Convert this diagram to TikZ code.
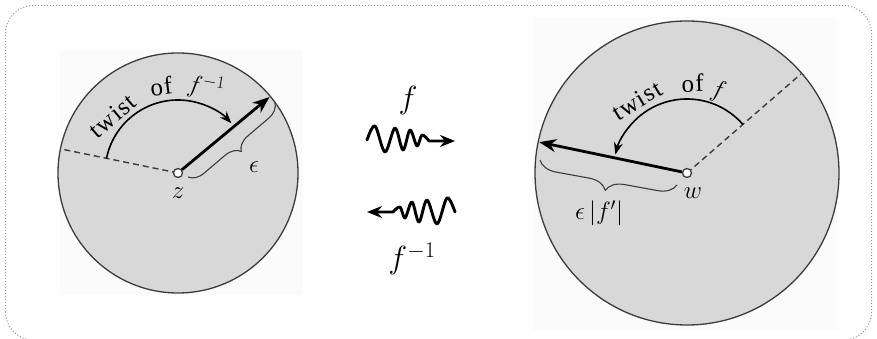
\documentclass[tikz,border=0pt]{standalone}
\usepackage{fix-cm}
\usepackage{fontspec}
\setmainfont{Liberation Serif}
\newfontfamily\arcfont[LetterSpace=5]{Liberation Serif}
\usetikzlibrary{arrows.meta,decorations.pathreplacing,calc}
\definecolor{discfill}{RGB}{216,216,216}
\definecolor{rim}{RGB}{60,60,60}
\definecolor{framecol}{RGB}{150,150,150}
\definecolor{sheet}{RGB}{251,251,251}
\begin{document}
\begin{tikzpicture}[x=1pt,y=1pt,
  disc/.style={circle, draw=rim, line width=1.3pt, fill=discfill, inner sep=0pt},
  hole/.style={circle, draw=rim, line width=1.3pt, fill=white, inner sep=0pt, minimum size=9pt},
  dashline/.style={rim, line width=1.4pt, dash pattern=on 6pt off 4pt},
  bigarrow/.style={black, line width=2.8pt, -{Stealth[length=17pt,width=13pt]}},
  twistarc/.style={black, line width=1.6pt, -{Stealth[length=12pt,width=9pt]}},
  bracestyle/.style={rim, line width=1.1pt, decorate, decoration={brace, amplitude=#1, aspect=0.5}},
  squig/.style={black, line width=2.9pt, line cap=round, line join=round, -{Stealth[length=15pt,width=12pt]}},
  arcword/.style={font=\arcfont\fontsize{25}{27}\selectfont, inner sep=0pt},
  arcmath/.style={font=\fontsize{25}{27}\selectfont, inner sep=0pt},
  bigmath/.style={font=\fontsize{32}{36}\selectfont, inner sep=0pt},
  midmath/.style={font=\fontsize{25}{28}\selectfont, inner sep=0pt}
]
\useasboundingbox (0,0) rectangle (877,339);
% frame and faint sheets
\draw[framecol, dotted, line width=1pt, rounded corners=28pt] (5.5,-1) rectangle (871.5,333.5);
\fill[sheet] (60,44) rectangle (303,289);
\fill[sheet] (533,9) rectangle (837,322);

% ---------- left disc ----------
\node[disc, minimum size=240pt] (ldisc) at (178,166) {};
\coordinate (zc) at (178,166);
\coordinate (ledge) at ($(zc)+(168.4:120)$);
\coordinate (ltip) at ($(zc)+(39.7:119)$);
\draw[dashline] (zc) -- (ledge);
\node[hole] (z) at (zc) {};
\draw[bigarrow] (z) -- (ltip);
\draw[twistarc] ($(zc)+(168.4:73)$) arc[start angle=168.4, end angle=43, radius=73];
\coordinate (lb1) at (275,236);
\coordinate (lb2) at (188,162);
\draw[bracestyle=15pt] (lb1) -- (lb2);
\node[midmath] (eps) at (254,172) {$\epsilon$};
\node[midmath] (zlab) at (178,146) {$z$};
\node[arcword, rotate=40] (ltwist) at ($(zc)+(139:87)$) {twist};
\node[arcword, rotate=7] (lof) at ($(zc)+(101:88)$) {of};
\node[arcmath, rotate=-10] (lfinv) at ($(zc)+(72:90)$) {$f^{-1}$};

% ---------- right disc ----------
\node[disc, minimum size=304pt] (rdisc) at (687,166) {};
\coordinate (wc) at (687,166);
\coordinate (redge) at ($(wc)+(41:151)$);
\coordinate (rtip) at ($(wc)+(168.2:151)$);
\draw[dashline] (wc) -- (redge);
\node[hole] (w) at (wc) {};
\draw[bigarrow] (w) -- (rtip);
\draw[twistarc] ($(wc)+(41:74)$) arc[start angle=41, end angle=165.5, radius=74];
\coordinate (rb1) at (677,154);
\coordinate (rb2) at (540,179);
\draw[bracestyle=18pt] (rb1) -- (rb2);
\node[midmath] (epsf) at (599,126) {$\epsilon\,|f'|$};
\node[midmath] (wlab) at (693,146) {$w$};
\node[arcword, rotate=31] (rtwist) at ($(wc)+(124.5:88)$) {twist};
\node[arcword, rotate=2] (rof) at ($(wc)+(86.5:90)$) {of};
\node[arcmath, rotate=-15] (rf) at ($(wc)+(69:87)$) {$f$};

% ---------- middle squiggles ----------
\node[bigmath] (fmap) at (408,238) {$f$};
\node[bigmath] (finv) at (412,80) {$f^{-1}$};
\coordinate (s1a) at (367,199);
\coordinate (s1b) at (455,198);
\draw[squig] plot[smooth, tension=0.55] coordinates {(s1a) (375,213) (385,187) (395,211) (403,189) (410,209) (417,193) (422,204) (429,198)} -- (s1b);
\coordinate (s2a) at (455,127);
\coordinate (s2b) at (367,127);
\draw[squig] plot[smooth, tension=0.55] coordinates {(s2a) (447,141) (437,115) (427,139) (419,117) (412,137) (405,121) (400,132) (393,127)} -- (s2b);
\end{tikzpicture}
\end{document}
